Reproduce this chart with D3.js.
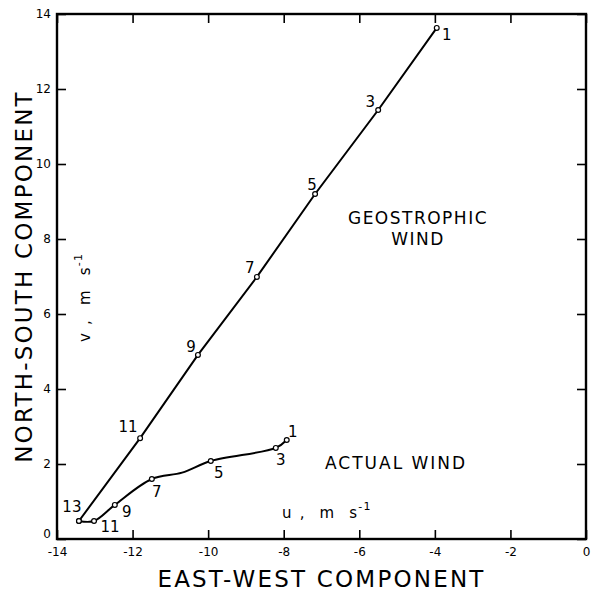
<!DOCTYPE html>
<html>
<head>
<meta charset="utf-8">
<script src="https://cdn.jsdelivr.net/npm/d3@7"></script>
<style>
  body { margin: 0; background: #fff; }
  text { font-family: "DejaVu Sans", sans-serif; fill: #000; }
</style>
</head>
<body>
<div id="wrapper"></div>
<script>
// hours after start (odd hours are marked on the chart)
const geoHours = [1, 3, 5, 7, 9, 11, 13]
const geoU = [-3.95, -5.5, -7.17, -8.71, -10.27, -11.8, -13.42]
const geoV = [13.63, 11.44, 9.2, 6.99, 4.91, 2.69, 0.48]

const actualHours = [1, 3, 5, 6, 7, 9, 11, 13]
const actualU = [-7.92, -8.21, -9.93, -10.69, -11.49, -12.47, -13.02, -13.42]
const actualV = [2.64, 2.43, 2.08, 1.77, 1.6, 0.91, 0.48, 0.48]

const xTicks = [-14, -12, -10, -8, -6, -4, -2, 0]
const yTicks = [0, 2, 4, 6, 8, 10, 12, 14]

// label offsets (px) from each marked point
const geoLabelOffset = {1: [10, 7], 3: [-8, -8], 5: [-3, -9], 7: [-7, -9], 9: [-7, -8], 11: [-12, -11], 13: [-7, -14]}
const actualLabelOffset = {1: [6, -8], 3: [5, 12], 5: [8, 12], 7: [5, 13], 9: [12, 7], 11: [16, 6]}

const geo = geoHours.map((h, i) => ({hour: h, u: geoU[i], v: geoV[i]}))
const actual = actualHours.map((h, i) => ({hour: h, u: actualU[i], v: actualV[i]}))

const xAccessor = d => d.u
const yAccessor = d => d.v

let dimensions = {
  width: 591,
  height: 596,
  margins: { top: 14, right: 5, bottom: 57, left: 57 }
}
dimensions.boundedWidth = dimensions.width - dimensions.margins.left - dimensions.margins.right
dimensions.boundedHeight = dimensions.height - dimensions.margins.top - dimensions.margins.bottom

const wrapper = d3.select('#wrapper').append('svg')
  .attr('width', dimensions.width)
  .attr('height', dimensions.height)

const bounds = wrapper.append('g')
  .attr('transform', `translate(${dimensions.margins.left},${dimensions.margins.top})`)

const xScale = d3.scaleLinear()
  .domain([-14, 0])
  .range([0, dimensions.boundedWidth])

const yScale = d3.scaleLinear()
  .domain([0, 14])
  .range([dimensions.boundedHeight, 0])

// axes: ticks point inwards, mirrored on top / right
const fmt = d => d3.format('d')(d).replace('−', '-')

const xAxis = bounds.append('g')
  .attr('transform', `translate(0,${dimensions.boundedHeight})`)
  .call(d3.axisBottom(xScale).tickValues(xTicks).tickFormat(fmt).tickSizeInner(-9).tickSizeOuter(0).tickPadding(8))
const xAxisTop = bounds.append('g')
  .call(d3.axisTop(xScale).tickValues(xTicks).tickFormat('').tickSizeInner(-9).tickSizeOuter(0))
const yAxis = bounds.append('g')
  .call(d3.axisLeft(yScale).tickValues(yTicks).tickFormat(fmt).tickSizeInner(-9).tickSizeOuter(0).tickPadding(6))
const yAxisRight = bounds.append('g')
  .attr('transform', `translate(${dimensions.boundedWidth},0)`)
  .call(d3.axisRight(yScale).tickValues(yTicks).tickFormat('').tickSizeInner(-9).tickSizeOuter(0))

bounds.selectAll('.domain').remove()
bounds.selectAll('.tick line').attr('stroke', '#000').attr('stroke-width', 1.6)
bounds.selectAll('.tick text')
  .style('font-family', '"DejaVu Sans", sans-serif')
  .style('font-size', '12px')
  .attr('fill', '#000')
// lift the y "0" so it clears the x "-14"
yAxis.selectAll('.tick text').filter(d => d === 0).attr('dy', '-0.1em')

bounds.append('rect')
  .attr('width', dimensions.boundedWidth)
  .attr('height', dimensions.boundedHeight)
  .attr('fill', 'none')
  .attr('stroke', '#000')
  .attr('stroke-width', 2.4)

// lines
const lineGenerator = d3.line()
  .x(d => xScale(xAccessor(d)))
  .y(d => yScale(yAccessor(d)))

bounds.append('path')
  .attr('d', lineGenerator(geo))
  .attr('fill', 'none')
  .attr('stroke', '#000')
  .attr('stroke-width', 2)

bounds.append('path')
  .attr('d', lineGenerator.curve(d3.curveCatmullRom.alpha(0.5))(actual))
  .attr('fill', 'none')
  .attr('stroke', '#000')
  .attr('stroke-width', 2)

function drawPoints(data, offsets) {
  const marked = data.filter(d => d.hour % 2 === 1)
  bounds.append('g').selectAll('circle')
    .data(marked)
    .enter().append('circle')
    .attr('cx', d => xScale(xAccessor(d)))
    .attr('cy', d => yScale(yAccessor(d)))
    .attr('r', 2.4)
    .attr('fill', '#fff')
    .attr('stroke', '#000')
    .attr('stroke-width', 1.2)

  bounds.append('g').selectAll('text')
    .data(marked.filter(d => offsets[d.hour]))
    .enter().append('text')
    .attr('x', d => xScale(xAccessor(d)) + offsets[d.hour][0])
    .attr('y', d => yScale(yAccessor(d)) + offsets[d.hour][1])
    .attr('text-anchor', 'middle')
    .attr('dominant-baseline', 'central')
    .style('font-size', '15px')
    .text(d => d.hour)
}
drawPoints(geo, geoLabelOffset)
drawPoints(actual, actualLabelOffset)

// annotations
const geoLabel = wrapper.append('text')
  .attr('text-anchor', 'middle')
  .style('font-size', '17px')
  .style('letter-spacing', '1.5px')
geoLabel.append('tspan').attr('x', 418).attr('y', 224).text('GEOSTROPHIC')
geoLabel.append('tspan').attr('x', 418).attr('y', 245).text('WIND')

wrapper.append('text')
  .attr('x', 325)
  .attr('y', 469)
  .style('font-size', '17px')
  .style('letter-spacing', '2px')
  .text('ACTUAL WIND')

const uLabel = wrapper.append('text')
  .attr('x', 282)
  .attr('y', 518)
  .style('font-size', '15px')
  .style('letter-spacing', '1.2px')
  .style('word-spacing', '1px')
  .attr('xml:space', 'preserve')
uLabel.append('tspan').text('u ,  m  s')
uLabel.append('tspan').attr('dy', -8).style('font-size', '11px').text('-1')

const vLabel = wrapper.append('text')
  .attr('transform', 'translate(90,342) rotate(-90)')
  .style('font-size', '15px')
  .style('letter-spacing', '1.2px')
  .style('word-spacing', '1px')
  .attr('xml:space', 'preserve')
vLabel.append('tspan').text('v ,  m  s')
vLabel.append('tspan').attr('dy', -8).style('font-size', '11px').text('-1')

// axis titles
wrapper.append('text')
  .attr('x', dimensions.margins.left + dimensions.boundedWidth / 2)
  .attr('y', 587)
  .attr('text-anchor', 'middle')
  .style('font-size', '23px')
  .style('letter-spacing', '2.2px')
  .text('EAST-WEST COMPONENT')

wrapper.append('text')
  .attr('transform', `translate(32,${dimensions.margins.top + dimensions.boundedHeight / 2}) rotate(-90)`)
  .attr('text-anchor', 'middle')
  .style('font-size', '23px')
  .style('letter-spacing', '2.2px')
  .text('NORTH-SOUTH COMPONENT')
</script>
</body>
</html>
